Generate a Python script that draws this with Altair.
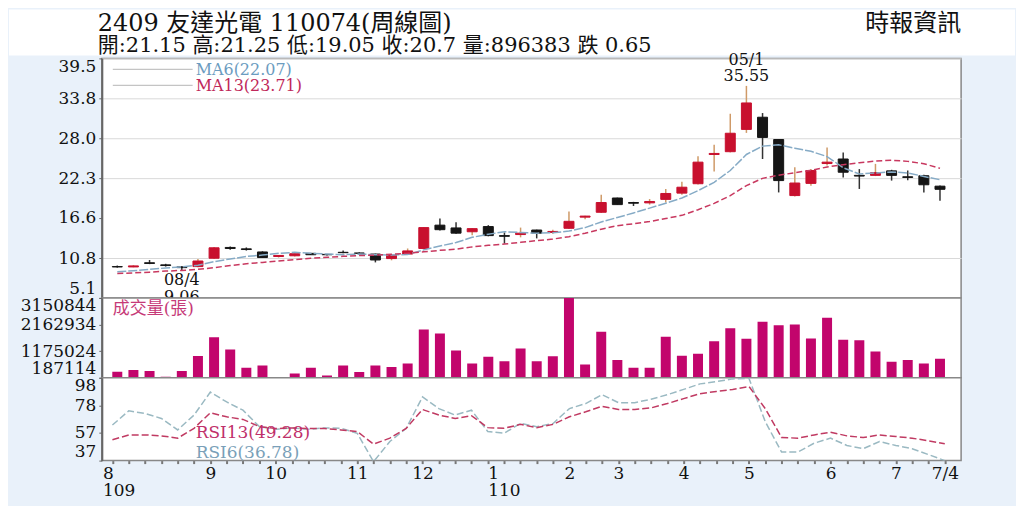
import altair as alt
import pandas as pd

# ---------------- data ----------------
week = list(range(52))
opens = [9.6, 9.55, 10.15, 9.85, 9.55, 9.6, 10.8, 12.35, 12.15, 11.7,
         11.05, 11.15, 11.5, 11.35, 11.65, 11.55, 11.4, 10.75, 11.4, 12.2,
         15.55, 15.15, 14.6, 15.35, 14.05, 14.2, 14.85, 14.5, 15.1, 16.7,
         17.4, 19.45, 18.8, 18.75, 19.25, 20.15, 21.5, 25.7, 26.1, 29.3,
         31.05, 27.85, 19.8, 21.55, 24.4, 25.05, 22.7, 22.7, 23.35, 22.5,
         22.65, 21.15]
highs = [9.75, 9.8, 10.55, 10.0, 9.65, 10.7, 12.4, 12.5, 12.35, 11.8,
         11.25, 11.5, 11.55, 11.4, 11.9, 11.65, 11.45, 11.3, 12.2, 15.25,
         16.5, 15.95, 15.1, 15.55, 14.5, 15.2, 14.9, 14.9, 17.5, 16.9,
         19.9, 19.5, 18.9, 19.3, 20.75, 21.8, 25.45, 27.1, 31.55, 35.55,
         31.65, 27.9, 23.85, 23.6, 26.7, 26.0, 23.6, 24.35, 23.5, 23.4,
         22.8, 21.25]
lows = [9.45, 9.5, 9.95, 9.6, 9.06, 9.5, 10.7, 12.0, 11.9, 10.85,
        10.9, 11.05, 11.25, 11.2, 11.5, 11.4, 10.2, 10.5, 11.3, 12.1,
        14.8, 14.3, 14.1, 13.95, 12.9, 13.8, 13.65, 14.3, 15.0, 16.4,
        17.3, 18.5, 18.3, 18.5, 18.8, 19.9, 21.4, 23.25, 26.0, 28.8,
        25.05, 20.25, 19.65, 21.2, 24.1, 22.4, 20.75, 22.6, 21.95, 22.0,
        20.25, 19.05]
closes = [9.55, 9.7, 10.05, 9.75, 9.45, 10.4, 12.3, 12.2, 12.05, 10.9,
          11.2, 11.45, 11.3, 11.3, 11.6, 11.5, 10.55, 11.25, 11.85, 15.2,
          14.9, 14.4, 15.05, 14.05, 13.95, 14.4, 14.4, 14.65, 16.1, 16.85,
          18.8, 18.5, 18.7, 18.95, 20.1, 21.0, 24.6, 25.85, 28.75, 33.1,
          28.15, 21.95, 21.6, 23.4, 24.6, 23.15, 22.6, 23.1, 22.7, 22.4,
          21.35, 20.7]
ma6 = [8.85, 9.0, 9.2, 9.4, 9.55, 9.8, 10.3, 10.7, 11.05, 11.25,
       11.5, 11.65, 11.5, 11.4, 11.3, 11.4, 11.3, 11.25, 11.35, 12.0,
       12.55, 13.05, 13.8, 14.25, 14.6, 14.5, 14.4, 14.45, 14.7, 15.2,
       16.0, 16.65, 17.3, 18.0, 18.7, 19.45, 20.5, 21.7, 23.4, 25.7,
       26.9, 27.1, 26.6, 26.15, 25.4, 23.8, 22.9, 23.05, 23.2, 23.05,
       22.55, 22.07]
ma13 = [8.6, 8.7, 8.8, 8.95, 9.05, 9.2, 9.45, 9.75, 10.0, 10.2,
        10.4, 10.6, 10.8, 10.93, 11.07, 11.18, 11.25, 11.38, 11.5, 11.72,
        11.93, 12.11, 12.43, 12.65, 12.84, 13.08, 13.32, 13.55, 13.9, 14.39,
        14.97, 15.48, 15.75, 16.06, 16.5, 16.96, 17.77, 18.68, 19.79, 21.23,
        22.27, 22.72, 23.08, 23.43, 23.9, 24.24, 24.52, 24.75, 24.88, 24.71,
        24.37, 23.71]
volume = [409350, 471280, 434120, 224560, 433870, 990410, 1694230, 1237180, 557320, 644090,
          187114, 348250, 556980, 274310, 643870, 397150, 644420, 582260, 718040, 1978310,
          1830120, 1200450, 717860, 965230, 804170, 1274380, 803950, 990120, 3150844, 681240,
          1891350, 842070, 557410, 556890, 1706220, 1002310, 1076180, 1546090, 2027340, 1632150,
          2262410, 2138220, 2163050, 1644180, 2410260, 1595330, 1583120, 1163240, 780310, 842150,
          718220, 896383]
rsi6 = [63.1, 73.6, 71.7, 68.0, 59.5, 70.5, 87.5, 80.2, 74.1, 62.0,
        60.0, 61.0, 60.0, 61.0, 60.7, 57.0, 36.0, 50.9, 60.7, 83.9,
        75.3, 70.5, 74.1, 58.3, 57.0, 64.3, 61.9, 64.3, 75.3, 79.0,
        85.6, 79.7, 79.7, 82.2, 85.6, 89.5, 93.6, 95.3, 97.3, 97.8,
        65.6, 43.1, 43.1, 49.7, 53.4, 48.0, 45.6, 50.9, 48.0, 45.6,
        41.2, 36.78]
rsi13 = [52.2, 55.8, 55.8, 55.1, 53.4, 60.7, 72.2, 69.2, 67.3, 62.0,
         60.5, 61.0, 60.5, 60.5, 59.5, 58.3, 49.0, 53.4, 60.7, 74.6,
         70.5, 68.0, 70.0, 61.2, 60.7, 63.6, 61.2, 63.6, 69.2, 72.9,
         77.0, 74.6, 74.6, 75.8, 79.0, 82.7, 86.3, 88.0, 89.5, 91.7,
         75.3, 53.9, 53.4, 55.8, 57.8, 55.1, 53.9, 55.8, 54.6, 53.4,
         51.4, 49.28]

price_ticks = [5.1, 10.8, 16.6, 22.3, 28.0, 33.8, 39.5]
vol_ticks = [187114, 1175024, 2162934, 3150844]
rsi_ticks = [36.78, 57.23, 77.68, 98.13]
month_pos = [0, 6, 10, 15, 19, 23, 28, 31, 35, 39, 44, 48, 51]
month_labels = [["8", "109"], "9", "10", "11", "12", ["1", "110"], "2", "3", "4", "5", "6", "7", "7/4"]

peak_week, peak_label = 39, "05/1\n35.55"
low_week, low_label = 4, "08/4\n9.06"

header1 = "2409  友達光電 110074(周線圖)"
header2 = "開:21.15 高:21.25 低:19.05 收:20.7 量:896383 跌 0.65"
source = "時報資訊"

df = pd.DataFrame(dict(i=week, open=opens, high=highs, low=lows, close=closes,
                       ma6=ma6, ma13=ma13, vol=volume, rsi6=rsi6, rsi13=rsi13))

# ---------------- styling ----------------
FONT = "DejaVu Serif, Noto Sans CJK TC"
W = 861
RED, BLACK = "#c8102e", "#151515"
WICK_UP, WICK_DN = "#cf9a68", "#333333"
MA6_C, MA13_C = "#86abc6", "#c8385f"
VOL_C = "#c2056c"
BG = "#e9f1fa"

x_scale = alt.Scale(domain=[-0.65, 52.0], nice=False, zero=False)
xenc = alt.X("i:Q", scale=x_scale, axis=None)

yaxis_common = dict(labelFont=FONT, labelFontSize=17, labelColor="#111", labelFlush=True,
                    labelPadding=3, tickSize=3, tickColor="#666", domainColor="#666",
                    domainWidth=2, title=None)

one = pd.DataFrame({"k": [0]})

# ---------------- price panel ----------------
p_scale = alt.Scale(domain=[5.1, 39.5], nice=False, zero=False)
p_axis = alt.Axis(values=price_ticks, format=".1f", grid=True, gridColor="#d9d9d9",
                  gridOpacity={"condition": {"test": "datum.value == 16.6", "value": 0}, "value": 1},
                  **yaxis_common)
up = "datum.close >= datum.open"
base = alt.Chart(df).encode(x=xenc)

header_bg = alt.Chart(one).mark_rect(fill="white", stroke=None).encode(
    x=alt.value(-93), x2=alt.value(W + 54), y=alt.value(-49), y2=alt.value(-3))

wicks = base.mark_rule(strokeWidth=1.5).encode(
    y=alt.Y("low:Q", scale=p_scale, axis=p_axis), y2="high:Q",
    color=alt.condition(up, alt.value(WICK_UP), alt.value(WICK_DN)))
bodies = base.mark_bar(size=10, strokeWidth=1).encode(
    y=alt.Y("open:Q", scale=p_scale, axis=p_axis), y2="close:Q",
    fill=alt.condition(up, alt.value(RED), alt.value(BLACK)),
    stroke=alt.condition(up, alt.value(RED), alt.value(BLACK)))
l_ma6 = base.mark_line(color=MA6_C, strokeWidth=1.5, strokeDash=[9, 2]).encode(
    y=alt.Y("ma6:Q", scale=p_scale, axis=p_axis))
l_ma13 = base.mark_line(color=MA13_C, strokeWidth=1.5, strokeDash=[6, 3]).encode(
    y=alt.Y("ma13:Q", scale=p_scale, axis=p_axis))

ann_df = pd.DataFrame({"i": [peak_week, low_week], "v": [highs[peak_week], lows[low_week]],
                       "t": [peak_label, low_label], "pos": ["top", "bottom"]})
ann_top = alt.Chart(ann_df[ann_df.pos == "top"]).mark_text(
    font=FONT, fontSize=16, lineBreak="\n", lineHeight=16, baseline="bottom", dy=-18, color="#111"
).encode(x=xenc, y=alt.Y("v:Q", scale=p_scale, axis=p_axis), text="t:N")
ann_bot = alt.Chart(ann_df[ann_df.pos == "bottom"]).mark_text(
    font=FONT, fontSize=16, lineBreak="\n", lineHeight=17, baseline="top", dy=2, color="#111"
).encode(x=xenc, y=alt.Y("v:Q", scale=p_scale, axis=p_axis), text="t:N")

leg_lines = alt.layer(
    alt.Chart(one).mark_rule(color="#c4c4c4", strokeWidth=1.2).encode(x=alt.value(11), x2=alt.value(91), y=alt.value(11)),
    alt.Chart(one).mark_rule(color="#c4c4c4", strokeWidth=1.2).encode(x=alt.value(11), x2=alt.value(91), y=alt.value(27)),
)
leg_t1 = alt.Chart(one).mark_text(text="MA6(22.07)", font=FONT, fontSize=16, align="left",
                                  baseline="middle", color="#6b9cc0").encode(x=alt.value(94), y=alt.value(12))
leg_t2 = alt.Chart(one).mark_text(text="MA13(23.71)", font=FONT, fontSize=16, align="left",
                                  baseline="middle", color="#c0285a").encode(x=alt.value(94), y=alt.value(28))
h1 = alt.Chart(one).mark_text(text=header1, font=FONT, fontSize=24, align="left", baseline="top",
                              color="#111").encode(x=alt.value(-4), y=alt.value(-46))
h2 = alt.Chart(one).mark_text(text=header2, font=FONT, fontSize=21, align="left", baseline="top",
                              color="#111").encode(x=alt.value(-4), y=alt.value(-23))
h3 = alt.Chart(one).mark_text(text=source, font=FONT, fontSize=24, align="right", baseline="top",
                              color="#111").encode(x=alt.value(W), y=alt.value(-46))

price = alt.layer(header_bg, wicks, bodies, l_ma6, l_ma13, ann_top, ann_bot,
                  leg_lines, leg_t1, leg_t2, h1, h2, h3).properties(width=W, height=240)

# ---------------- volume panel ----------------
v_scale = alt.Scale(domain=[vol_ticks[0], vol_ticks[-1]], nice=False, zero=False)
v_axis = alt.Axis(values=vol_ticks, labelExpr="format(datum.value, 'd')", grid=False, **yaxis_common)
vbars = alt.Chart(df).mark_bar(size=10, color=VOL_C, clip=True).encode(
    x=xenc, y=alt.Y("vol:Q", scale=v_scale, axis=v_axis), y2=alt.datum(vol_ticks[0]))
vlabel = alt.Chart(one).mark_text(text="成交量(張)", font=FONT, fontSize=17, align="left",
                                  baseline="middle", color="#c63a78").encode(x=alt.value(11), y=alt.value(11))
vol = alt.layer(vbars, vlabel).properties(width=W, height=80)

# ---------------- RSI panel ----------------
def label_expr():
    parts = []
    for p, l in zip(month_pos, month_labels):
        if isinstance(l, list):
            s = "[" + ",".join("'%s'" % x for x in l) + "]"
        else:
            s = "'%s'" % l
        parts.append("datum.value == %d ? %s" % (p, s))
    return " : ".join(parts) + " : ''"

x_axis = alt.Axis(values=week, labelExpr=label_expr(), labelFont=FONT, labelFontSize=17,
                  labelColor="#111", labelOverlap=False, labelFlush=False, labelPadding=2,
                  labelLineHeight=17, labelBaseline="top",
                  labelAlign={"condition": {"test": "datum.value == 0 || datum.value == 23", "value": "left"}, "value": "center"},
                  labelOffset={"condition": {"test": "datum.value == 0", "value": -10}, "value": 0},
                  domain=False, tickSize=3, tickWidth=2, tickColor="#777", grid=False, title=None)
r_scale = alt.Scale(domain=[rsi_ticks[0], rsi_ticks[-1]], nice=False, zero=False)
r_axis = alt.Axis(values=rsi_ticks, labelExpr="format(datum.value, '.0f')", grid=False, **yaxis_common)
xr = alt.X("i:Q", scale=x_scale, axis=x_axis)
r6 = alt.Chart(df).mark_line(color="#9ab9c2", strokeWidth=1.5, strokeDash=[7, 3], clip=True).encode(
    x=xr, y=alt.Y("rsi6:Q", scale=r_scale, axis=r_axis))
r13 = alt.Chart(df).mark_line(color="#c03a62", strokeWidth=1.5, strokeDash=[7, 3], clip=True).encode(
    x=xr, y=alt.Y("rsi13:Q", scale=r_scale, axis=r_axis))
rt1 = alt.Chart(one).mark_text(text="RSI13(49.28)", font=FONT, fontSize=17, align="left",
                               baseline="middle", color="#c0306a").encode(x=alt.value(94), y=alt.value(55))
rt2 = alt.Chart(one).mark_text(text="RSI6(36.78)", font=FONT, fontSize=17, align="left",
                               baseline="middle", color="#7a9fb8").encode(x=alt.value(94), y=alt.value(75))
rsi = alt.layer(r6, r13, rt1, rt2).properties(width=W, height=83)

chart = alt.vconcat(price, vol, rsi, spacing=0, bounds="flush").properties(
    padding={"left": 0, "top": 0, "right": 0, "bottom": 6},
    background=BG,
).configure_view(stroke="#888", strokeWidth=1.5, fill="white")

chart.save("out.html", embed_options={"renderer": "svg", "actions": False})
